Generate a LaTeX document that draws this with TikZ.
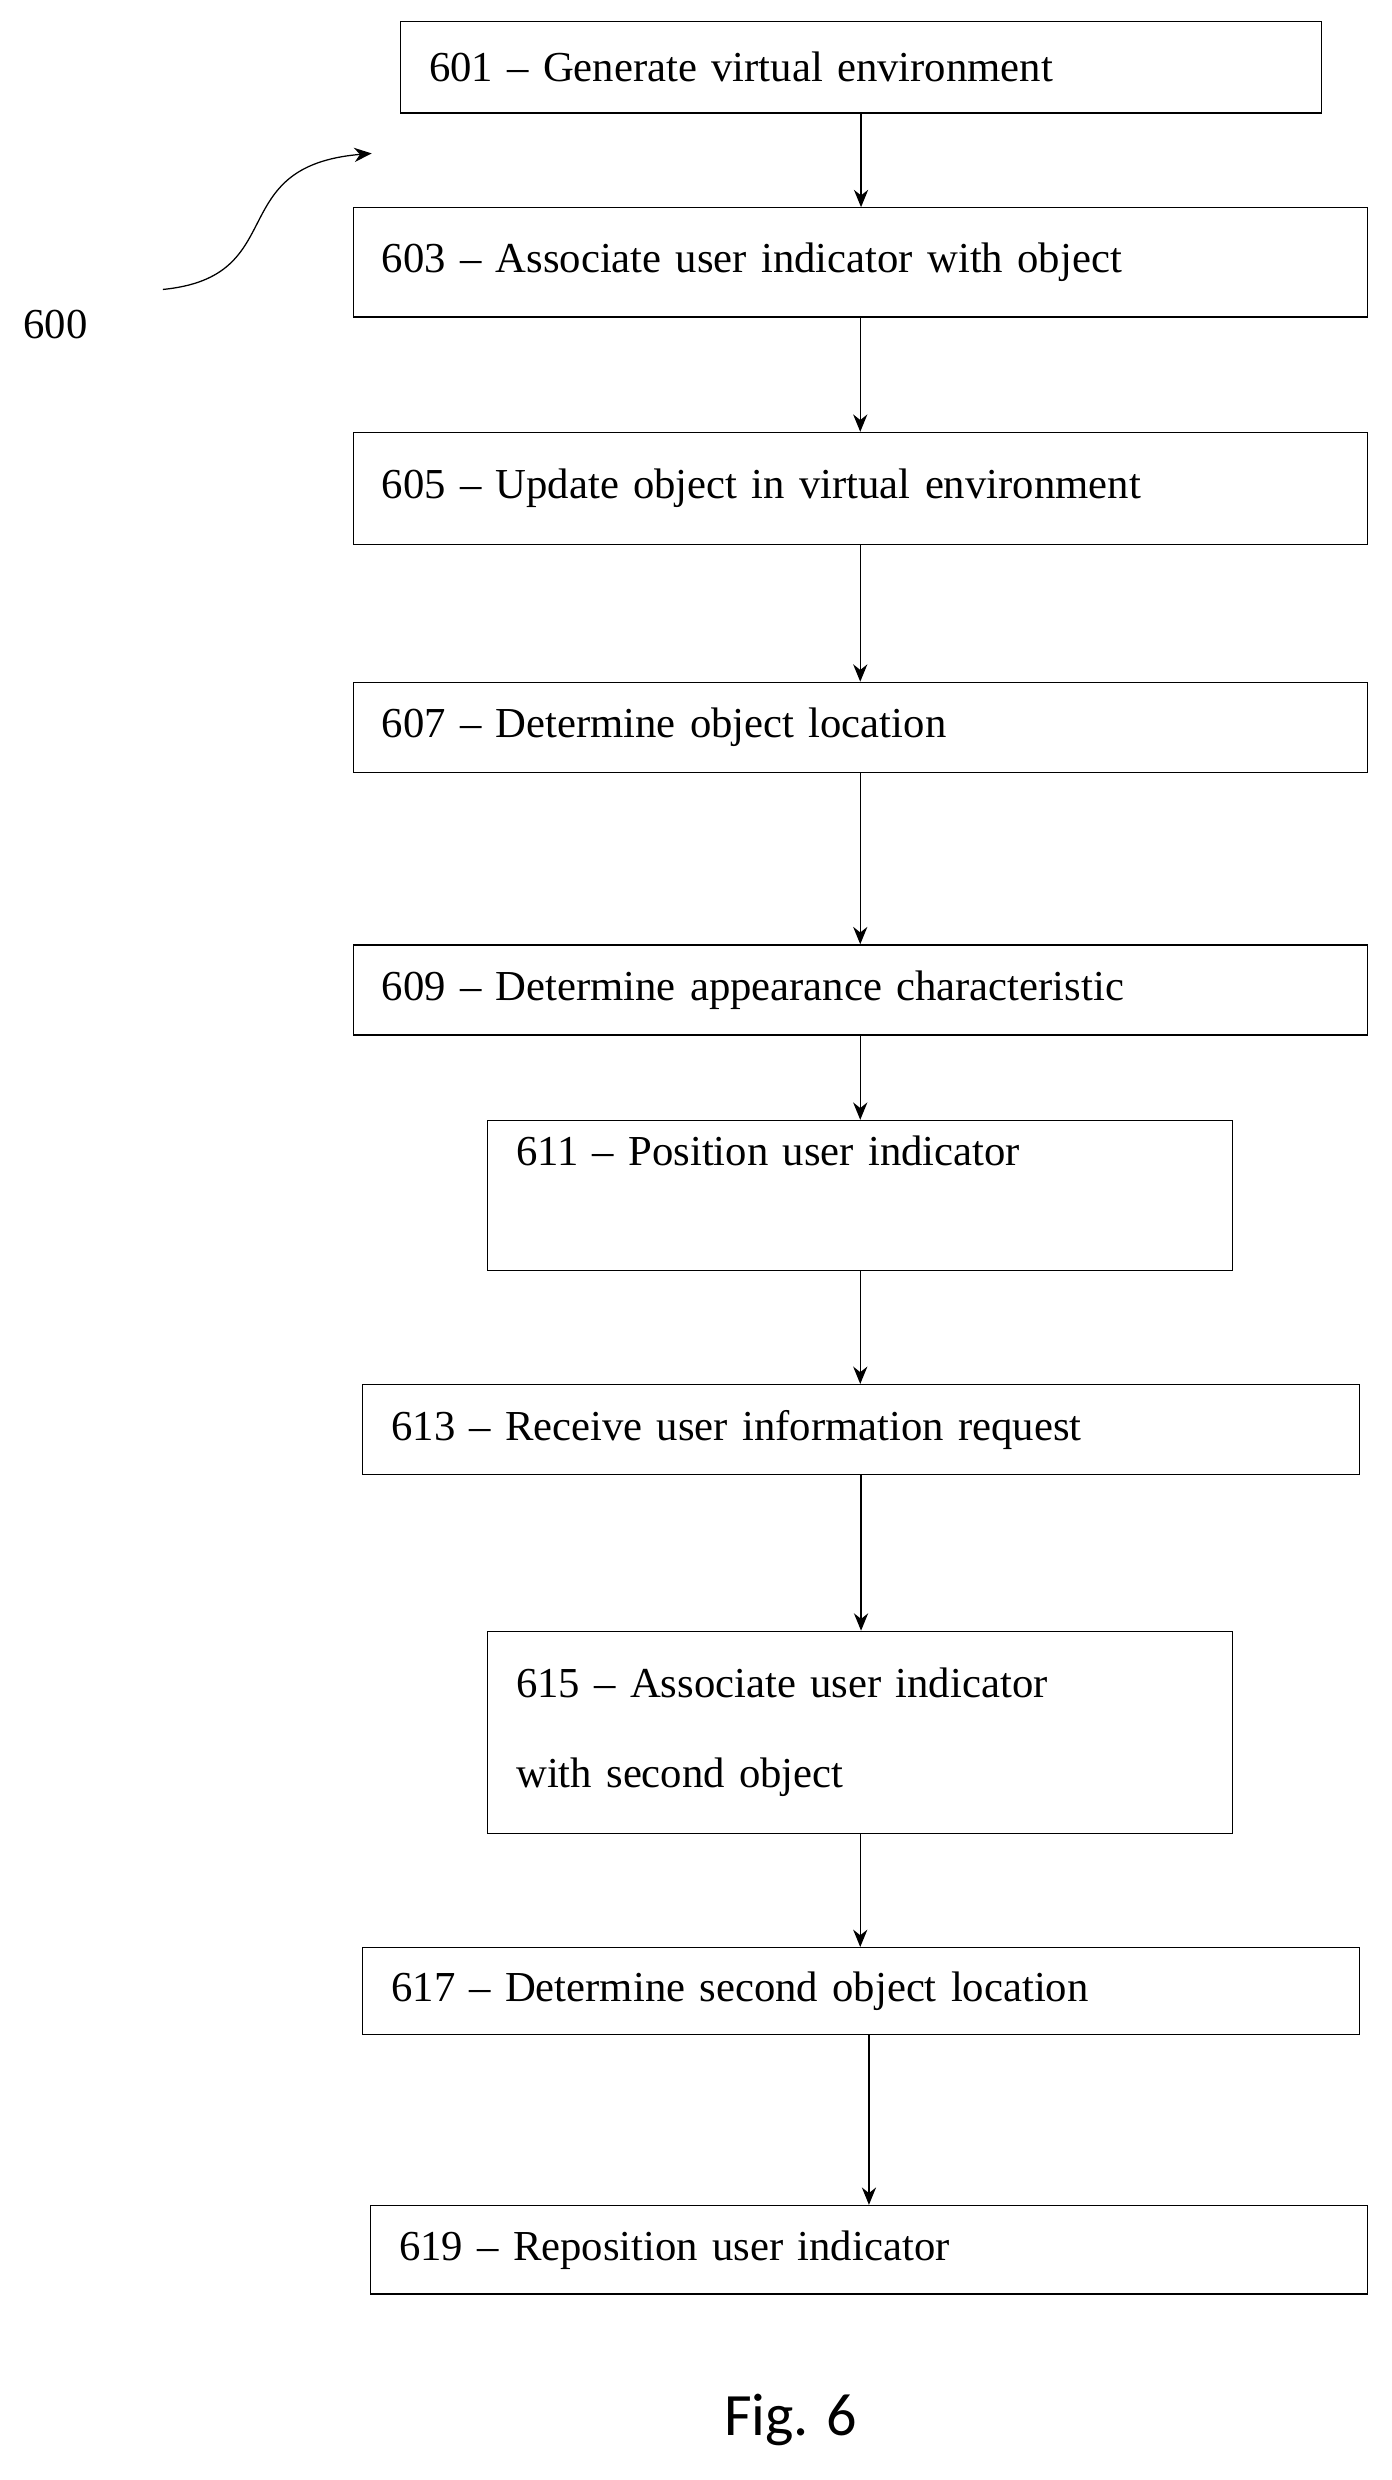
\documentclass[tikz,border=0pt]{standalone}
\usepackage{fontspec}
\setmainfont{Liberation Serif}
\setsansfont{Carlito}
\usetikzlibrary{arrows.meta}

\tikzset{
  stepbox/.style={draw, thick, anchor=north west, align=left, inner xsep=18pt, inner ysep=0pt,
    font=\fontsize{27}{57}\selectfont},
  flow/.style={thick, -{Stealth[length=11pt, width=9pt]}}
}

\begin{document}
\begin{tikzpicture}[x=1pt, y=-1pt]

    \useasboundingbox (0,0) rectangle (880,1568);

    \node[stepbox, minimum width=582, minimum height=58, text width=546] (s601) at (253,13) {601 – Generate virtual environment};
    \node[stepbox, minimum width=641, minimum height=69, text width=605] (s603) at (223,131) {603 – Associate user indicator with object};
    \node[stepbox, minimum width=641, minimum height=71, text width=605] (s605) at (223,273) {605 – Update object in virtual environment};
    \node[stepbox, minimum width=641, minimum height=57, text width=605] (s607) at (223,431) {607 – Determine object location};
    \node[stepbox, minimum width=641, minimum height=57, text width=605] (s609) at (223,597) {609 – Determine appearance characteristic};
    \node[stepbox, minimum width=471, minimum height=95, text width=435] (s611) at (308,708) {611 – Position user indicator\\\mbox{}};
    \node[stepbox, minimum width=630, minimum height=57, text width=594] (s613) at (229,875) {613 – Receive user information request};
    \node[stepbox, minimum width=471, minimum height=128, text width=435] (s615) at (308,1031) {615 – Associate user indicator\\with second object};
    \node[stepbox, minimum width=630, minimum height=55, text width=594] (s617) at (229,1231) {617 – Determine second object location};
    \node[stepbox, minimum width=630, minimum height=56, text width=594] (s619) at (234,1394) {619 – Reposition user indicator};

    % flow between steps
    \foreach \a/\b in {s601/s603, s603/s605, s605/s607, s607/s609, s609/s611, s611/s613, s613/s615, s615/s617}
      \draw[flow] (\a.south) -- (\a.south |- \b.north);
    \draw[flow] (s617.south) ++(5,0) coordinate (c617) -- (c617 |- s619.north);

    % reference numeral
    \node[font=\fontsize{27}{32}\selectfont] (n600) at (35,205) {600};
    \coordinate (c600) at (103,183);
    \coordinate (t600) at (235,97);
    \draw[thick, -{Stealth[length=11pt, width=9pt]}] (c600) .. controls (185,175) and (140,105) .. (t600);

    \node[font=\sffamily\fontsize{38}{44}\selectfont] (fig) at (500,1530) {Fig. 6};

\end{tikzpicture}
\end{document}
